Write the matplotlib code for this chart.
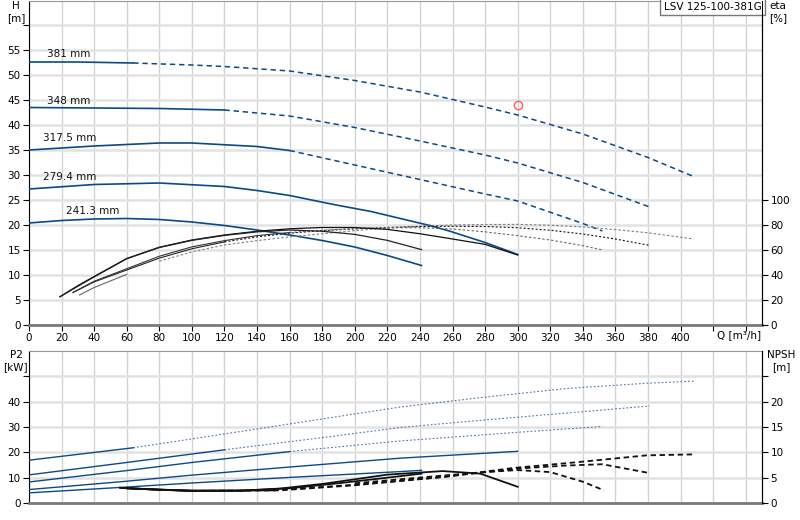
import numpy as np
import matplotlib
matplotlib.use('Agg')
import matplotlib.pyplot as plt

plt.rcParams['font.family'] = ['DejaVu Sans']

# ---------------- data ----------------
title = 'LSV 125-100-381G'
diam_labels = ['381 mm', '348 mm', '317.5 mm', '279.4 mm', '241.3 mm']
solid_until = [64, 120, 160, 300, 241]          # Q where the solid part ends

# Head H [m]
h_q381 = [0, 30, 64, 100, 120, 160, 200, 240, 280, 300, 340, 380, 408]
h_381 = [52.6, 52.6, 52.4, 52.0, 51.7, 50.8, 48.9, 46.6, 43.6, 42.0, 38.2, 33.5, 29.7]
h_q348 = [0, 40, 80, 120, 160, 200, 240, 280, 300, 340, 381]
h_348 = [43.5, 43.4, 43.3, 43.0, 41.8, 39.5, 36.8, 34.0, 32.4, 28.5, 23.6]
h_q317 = [0, 40, 80, 100, 140, 160, 200, 240, 280, 300, 340, 352]
h_317 = [35.0, 35.8, 36.4, 36.4, 35.7, 34.9, 32.0, 29.1, 26.2, 24.8, 20.3, 18.8]
h_q279 = [0, 40, 80, 120, 140, 160, 187, 210, 228, 246, 258, 280, 300]
h_279 = [27.2, 28.1, 28.4, 27.7, 26.9, 25.9, 24.1, 22.7, 21.3, 19.9, 18.8, 16.5, 14.1]
h_q241 = [0, 20, 40, 60, 80, 100, 120, 140, 160, 180, 200, 220, 241]
h_241 = [20.4, 20.9, 21.2, 21.3, 21.1, 20.6, 19.9, 19.0, 18.0, 16.9, 15.6, 13.9, 11.9]

# Efficiency eta [%]
e_q381 = [31, 40, 60, 80, 100, 120, 140, 160, 180, 200, 220, 240, 260, 280, 300, 320, 340, 360, 380, 408]
e_381 = [24, 30, 40.5, 51, 58.5, 64, 67.5, 70.5, 73, 75.5, 77.5, 79, 80, 80.4, 80.5, 79.8, 78.5, 76.3, 73.8, 68.8]
e_q348 = [27, 40, 60, 80, 100, 120, 140, 160, 180, 200, 220, 240, 260, 280, 300, 320, 340, 360, 381]
e_348 = [26, 34.5, 44, 53.5, 61, 66.5, 70.5, 73.5, 75.5, 77, 78, 78.8, 79, 78.8, 77.8, 75.8, 72.8, 68.8, 63.7]
e_q317 = [27, 40, 60, 80, 100, 120, 140, 160, 180, 200, 220, 240, 260, 280, 300, 320, 340, 352]
e_317 = [26, 35, 45, 55, 62.5, 67.5, 71.5, 74, 75.8, 77, 77.8, 77.8, 76.8, 74.5, 71.5, 68, 63.5, 60]
e_q279 = [19, 30, 40, 60, 80, 100, 120, 140, 160, 180, 200, 220, 240, 260, 280, 300]
e_279 = [22.6, 31.5, 38.8, 53.2, 62.2, 68, 72, 75, 77, 78, 78, 76.5, 73, 68.8, 64.5, 56]
e_q241 = [19, 30, 40, 60, 80, 100, 120, 140, 160, 180, 200, 220, 241]
e_241 = [22.6, 31, 38.5, 53, 62, 67.7, 71.7, 74.5, 76, 75, 72.5, 67.7, 60.3]

# Power P2 [kW]
p_q381 = [0, 64, 100, 160, 228, 280, 330, 380, 408]
p_381 = [16.9, 21.8, 25.3, 31.2, 37.9, 41.8, 45.2, 47.3, 48.1]
p_q348 = [0, 60, 120, 180, 228, 280, 330, 381]
p_348 = [11.1, 16.0, 21.0, 25.8, 29.8, 32.8, 35.5, 38.3]
p_q317 = [0, 60, 100, 160, 228, 300, 352]
p_317 = [8.3, 12.8, 16.0, 20.3, 24.5, 27.9, 30.2]
p_q279 = [0, 60, 100, 160, 228, 300]
p_279 = [5.3, 8.6, 11.0, 14.2, 17.7, 20.4]
p_q241 = [0, 60, 100, 160, 228, 241]
p_241 = [4.0, 6.3, 7.9, 10.1, 12.4, 12.9]

# NPSH [m]
n_q381 = [60, 100, 154, 200, 256, 297, 338, 379, 409]
n_381 = [2.9, 2.4, 2.5, 3.5, 5.2, 6.9, 8.1, 9.4, 9.6]
n_q348 = [60, 100, 150, 200, 250, 300, 330, 352, 381]
n_348 = [2.9, 2.4, 2.5, 3.6, 5.0, 6.8, 7.4, 7.65, 5.9]
n_q317 = [60, 100, 150, 200, 250, 280, 300, 320, 340, 353]
n_317 = [2.9, 2.4, 2.5, 3.9, 5.3, 6.1, 6.5, 6.1, 4.2, 2.5]
n_q279 = [56, 80, 100, 130, 154, 181, 220, 254, 277, 300]
n_279 = [3.0, 2.6, 2.4, 2.4, 2.85, 3.8, 5.6, 6.3, 5.8, 3.2]
n_q241 = [56, 80, 100, 130, 160, 190, 220, 241]
n_241 = [3.0, 2.6, 2.45, 2.45, 2.9, 3.9, 5.0, 5.8]

op_q = [300]
op_h = [44]

head = [(h_q381, h_381), (h_q348, h_348), (h_q317, h_317), (h_q279, h_279), (h_q241, h_241)]
eff = [(e_q381, e_381), (e_q348, e_348), (e_q317, e_317), (e_q279, e_279), (e_q241, e_241)]
power = [(p_q381, p_381), (p_q348, p_348), (p_q317, p_317), (p_q279, p_279), (p_q241, p_241)]
npsh = [(n_q381, n_381), (n_q348, n_348), (n_q317, n_317), (n_q279, n_279), (n_q241, n_241)]

BLUE = '#0b4a88'


def split_plot(ax, q, v, qlim, solid_kw, dash_kw):
    q = np.asarray(q, float)
    v = np.asarray(v, float)
    m1 = q <= qlim
    m2 = q >= qlim
    if m1.sum() > 1:
        ax.plot(q[m1], v[m1], **solid_kw)
    if m2.sum() > 1:
        ax.plot(q[m2], v[m2], **dash_kw)


fig = plt.figure(figsize=(8, 5.2), dpi=100)
ax = fig.add_axes([29 / 800, 1 - 325 / 520, 733 / 800, 324 / 520])
ax2 = fig.add_axes([29 / 800, 1 - 503 / 520, 733 / 800, 152 / 520])

XMAX = 450
for a in (ax, ax2):
    a.set_xlim(0, XMAX)
    a.set_xticks(np.arange(0, 441, 20))
    a.grid(axis='x', color='#d2d2d2', lw=1.0, zorder=0)
    a.grid(axis='y', color='#e2e2e2', lw=1.8, zorder=0)
    a.set_axisbelow(True)
    a.spines['left'].set_color('black')
    a.spines['right'].set_color('black')
    a.spines['bottom'].set_color('#7a7a7a')
    a.spines['bottom'].set_linewidth(2)
    a.spines['top'].set_color('#999999')
    a.tick_params(labelsize=7.5, length=4, width=0.8, pad=2, direction='out')

# ---- top panel ----
ax.set_ylim(0, 64.8)
ax.set_yticks(np.arange(0, 61, 5))
ax.set_yticklabels([str(v) if v <= 55 else '' for v in range(0, 61, 5)])
ax.set_xticklabels([str(v) if v <= 400 else '' for v in range(0, 441, 20)])

for i, (q, h) in enumerate(head):
    split_plot(ax, q, h, solid_until[i],
               dict(color=BLUE, lw=1.2, zorder=3),
               dict(color=BLUE, lw=1.1, dashes=(3.5, 2.5), zorder=3))

label_pos = [(11, 54.2), (11, 44.9), (8.5, 37.4), (8.5, 29.6), (23, 22.9)]
for (lx, ly), lab in zip(label_pos, diam_labels):
    ax.text(lx, ly, lab, fontsize=7.5, ha='left', va='center', color='#111')

ax.plot(op_q, op_h, 'o', mfc='none', mec='#ff5a5a', ms=6, mew=1, zorder=5)

ax.text(0.9995, 0.998, title, transform=ax.transAxes, ha='right', va='top', fontsize=7.5,
        bbox=dict(boxstyle='square,pad=0.35', fc='white', ec='#777777', lw=1), zorder=6)

axe = ax.twinx()
axe.set_ylim(0, 64.8 * 4)
axe.set_yticks(np.arange(0, 101, 20))
axe.tick_params(labelsize=7.5, length=4, width=0.8, pad=2)
for s in ('left', 'top', 'bottom'):
    axe.spines[s].set_visible(False)
axe.spines['right'].set_color('black')

eta_solid = [dict(color='#666666', lw=0.8), dict(color='#222222', lw=0.8),
             dict(color='#333333', lw=0.8), dict(color='#111111', lw=0.9),
             dict(color='#222222', lw=0.9)]
eta_dash = [dict(color='#808080', lw=0.8, dashes=(2.2, 1.8)),
            dict(color='#111111', lw=0.8, dashes=(1.8, 1.8)),
            dict(color='#6a6a6a', lw=0.8, dashes=(2.2, 1.8)),
            dict(color='#111111', lw=0.9), dict(color='#222222', lw=0.9)]
for i, (q, e) in enumerate(eff):
    split_plot(axe, q, e, solid_until[i], eta_solid[i], eta_dash[i])

fig.text(16 / 800, 1 - 6 / 520, 'H', fontsize=7.5, ha='center', va='center')
fig.text(16 / 800, 1 - 18 / 520, '[m]', fontsize=7.5, ha='center', va='center')
fig.text(778 / 800, 1 - 6 / 520, 'eta', fontsize=7.5, ha='center', va='center')
fig.text(778 / 800, 1 - 18 / 520, '[%]', fontsize=7.5, ha='center', va='center')
fig.text(739 / 800, 1 - 335 / 520, 'Q [m³/h]', fontsize=7.5, ha='center', va='center')

# ---- bottom panel ----
ax2.set_ylim(0, 60)
ax2.set_yticks(np.arange(0, 51, 10))
ax2.set_yticklabels([str(v) if v <= 40 else '' for v in range(0, 51, 10)])
ax2.tick_params(axis='x', labelbottom=False, length=0)

for i, (q, p) in enumerate(power):
    split_plot(ax2, q, p, solid_until[i],
               dict(color=BLUE, lw=1.0, zorder=3),
               dict(color='#2a5a90', lw=0.8, dashes=(1.6, 1.8), alpha=0.8, zorder=3))

axn = ax2.twinx()
axn.set_ylim(0, 30)
axn.set_yticks(np.arange(0, 26, 5))
axn.set_yticklabels([str(v) if v <= 20 else '' for v in range(0, 26, 5)])
axn.tick_params(labelsize=7.5, length=4, width=0.8, pad=2)
for s in ('left', 'top', 'bottom'):
    axn.spines[s].set_visible(False)
axn.spines['right'].set_color('black')

for i, (q, n) in enumerate(npsh):
    split_plot(axn, q, n, solid_until[i],
               dict(color='#111111', lw=1.3),
               dict(color='#111111', lw=1.3, dashes=(3, 2)))

fig.text(16 / 800, 1 - 355 / 520, 'P2', fontsize=7.5, ha='center', va='center')
fig.text(15 / 800, 1 - 367 / 520, '[kW]', fontsize=7.5, ha='center', va='center')
fig.text(781 / 800, 1 - 355 / 520, 'NPSH', fontsize=7.5, ha='center', va='center')
fig.text(781 / 800, 1 - 367 / 520, '[m]', fontsize=7.5, ha='center', va='center')

fig.savefig('out.png', dpi=100)
